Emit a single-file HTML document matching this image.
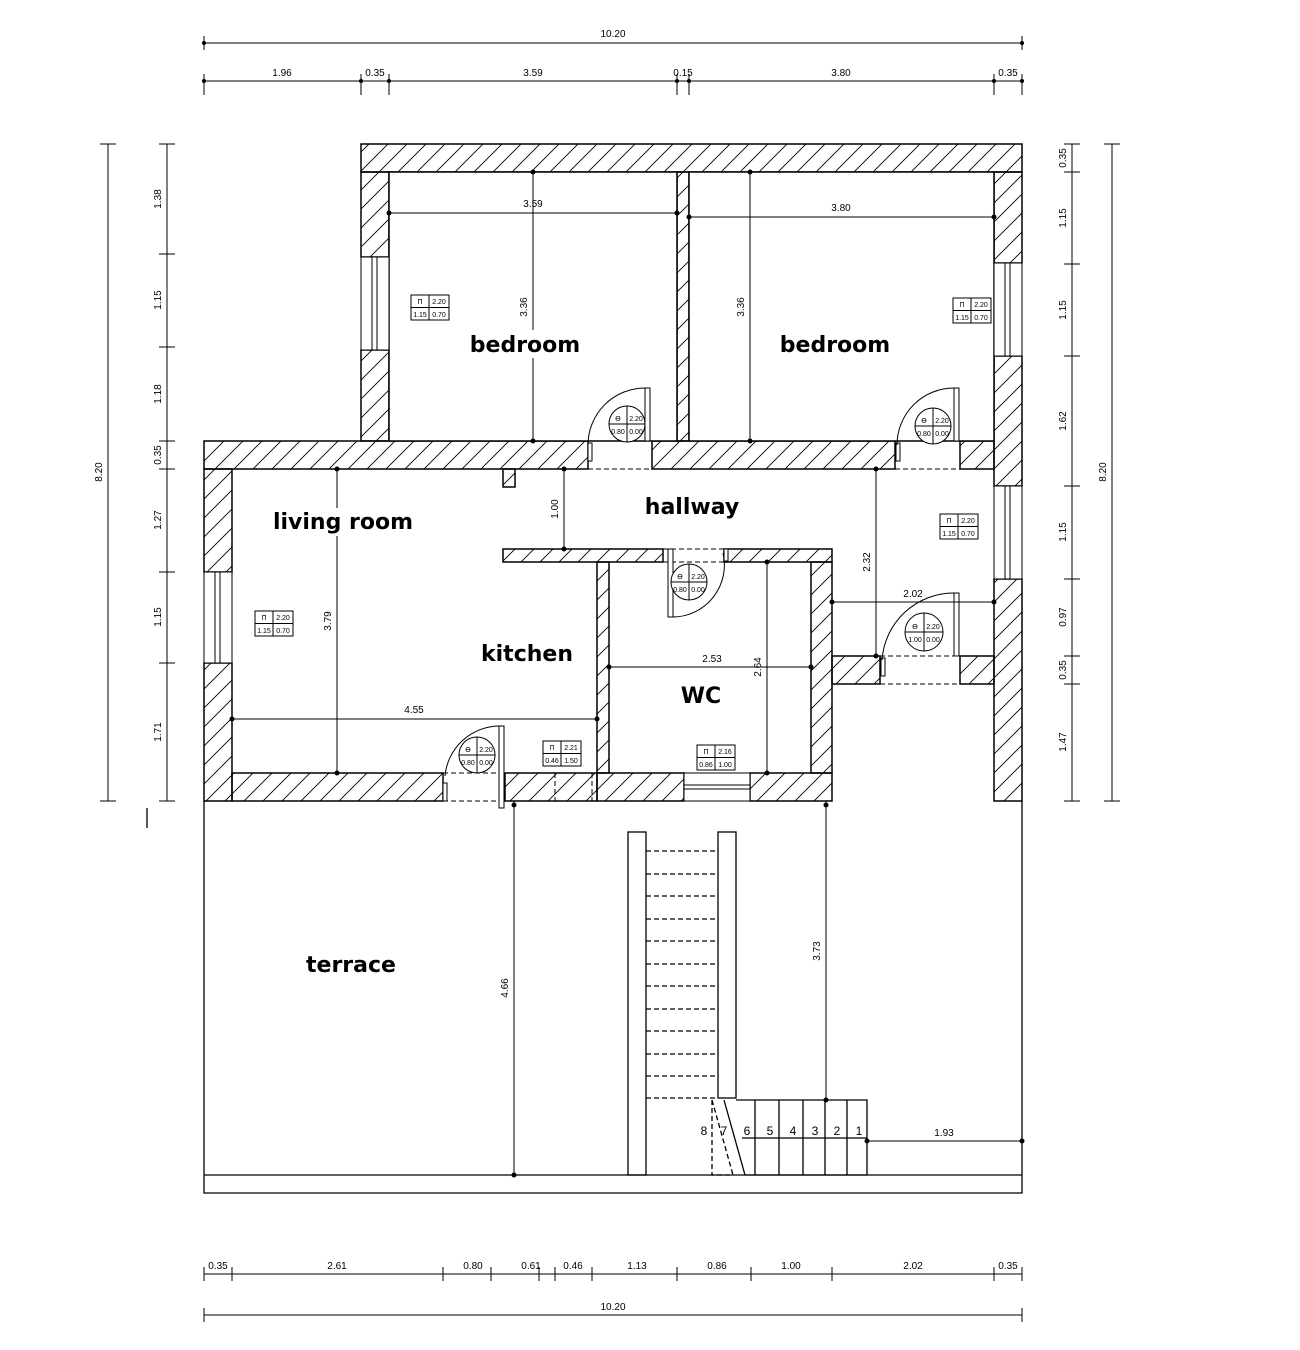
<!DOCTYPE html>
<html><head><meta charset="utf-8"><style>
html,body{margin:0;padding:0;background:#fff}
svg{display:block}
text{font-family:"Liberation Sans",sans-serif;fill:#000;stroke:none}
.d{font-size:10px;text-anchor:middle}
.r{font-size:22px;font-weight:bold;text-anchor:middle;font-family:"DejaVu Sans","Liberation Sans",sans-serif}
.t{font-size:7px;text-anchor:middle}
</style></head><body>
<svg width="1300" height="1350" viewBox="0 0 1300 1350" xmlns="http://www.w3.org/2000/svg">
<defs>
<pattern id="h" patternUnits="userSpaceOnUse" width="19" height="19">
<path d="M-2,21 L21,-2 M-2,2 L2,-2 M17,21 L21,17" stroke="#000" stroke-width="0.9"/>
</pattern>
</defs>
<g stroke="#000" stroke-width="1.5" fill="url(#h)">
<rect x="361" y="144" width="661" height="28"/>
<rect x="361" y="172" width="28" height="85"/>
<rect x="361" y="350" width="28" height="91"/>
<rect x="677" y="172" width="12" height="269"/>
<rect x="994" y="172" width="28" height="91"/>
<rect x="994" y="356" width="28" height="130"/>
<rect x="994" y="579" width="28" height="222"/>
<rect x="204" y="441" width="384" height="28"/>
<rect x="652" y="441" width="243" height="28"/>
<rect x="960" y="441" width="34" height="28"/>
<rect x="204" y="469" width="28" height="103"/>
<rect x="204" y="663" width="28" height="138"/>
<rect x="232" y="773" width="211" height="28"/>
<rect x="505" y="773" width="92" height="28"/>
<rect x="597" y="773" width="87" height="28"/>
<rect x="750" y="773" width="82" height="28"/>
<rect x="503" y="549" width="160" height="13"/>
<rect x="724" y="549" width="108" height="13"/>
<rect x="597" y="562" width="12" height="211"/>
<rect x="811" y="562" width="21" height="211"/>
<rect x="832" y="656" width="48" height="28"/>
<rect x="960" y="656" width="34" height="28"/>
<rect x="503" y="469" width="12" height="18"/>
</g>
<g fill="none" stroke="#000" stroke-width="1.5">
<rect x="389" y="172" width="288" height="269" fill="#fff"/>
<rect x="689" y="172" width="305" height="269" fill="#fff"/>
</g>
<g fill="#fff" stroke="#000" stroke-width="1">
<rect x="361" y="257" width="28" height="93"/>
<rect x="994" y="263" width="28" height="93"/>
<rect x="994" y="486" width="28" height="93"/>
<rect x="204" y="572" width="28" height="91"/>
<rect x="684" y="773" width="66" height="28"/>
<rect x="372" y="257" width="5" height="93"/>
<rect x="1005" y="263" width="5" height="93"/>
<rect x="1005" y="486" width="5" height="93"/>
<rect x="215" y="572" width="5" height="91"/>
<rect x="684" y="785" width="66" height="4"/>
</g>
<g fill="none" stroke="#000" stroke-width="1">
<path d="M588,441 L652,441 M588,469 L652,469 M895,441 L960,441 M895,469 L960,469 M663,549 L724,549 M663,562 L724,562 M880,656 L960,656 M880,684 L960,684 M443,773 L505,773 M443,801 L505,801 M555,773 L555,801 M592,773 L592,801" stroke-dasharray="5,3"/>
<rect x="645" y="388" width="5" height="53" fill="#fff"/><rect x="588" y="443" width="4" height="18" fill="#fff"/>
<path d="M645,388 A57,57 0 0 0 588,445"/>
<rect x="954" y="388" width="5" height="53" fill="#fff"/><rect x="896" y="443" width="4" height="18" fill="#fff"/>
<path d="M954,388 A57,57 0 0 0 897,445"/>
<rect x="668" y="549" width="5" height="68" fill="#fff"/><rect x="724" y="549" width="4" height="12" fill="#fff"/>
<path d="M673,617 A52,52 0 0 0 723,553"/>
<rect x="954" y="593" width="5" height="63" fill="#fff"/><rect x="881" y="658" width="4" height="18" fill="#fff"/>
<path d="M954,593 A72,72 0 0 0 882,660"/>
<rect x="499" y="726" width="5" height="82" fill="#fff"/><rect x="443" y="783" width="4" height="18" fill="#fff"/>
<path d="M499,726 A55,55 0 0 0 445,776"/>
</g>
<g stroke="#000" stroke-width="1" fill="#fff">
<g transform="translate(627,424)"><circle r="18"/><path d="M-18,0H18M0,-18V18"/><text class="t" x="-9" y="-3">ϴ</text><text class="t" x="9" y="-3">2.20</text><text class="t" x="-9" y="10">0.80</text><text class="t" x="9" y="10">0.00</text></g>
<g transform="translate(933,426)"><circle r="18"/><path d="M-18,0H18M0,-18V18"/><text class="t" x="-9" y="-3">ϴ</text><text class="t" x="9" y="-3">2.20</text><text class="t" x="-9" y="10">0.80</text><text class="t" x="9" y="10">0.00</text></g>
<g transform="translate(689,582)"><circle r="18"/><path d="M-18,0H18M0,-18V18"/><text class="t" x="-9" y="-3">ϴ</text><text class="t" x="9" y="-3">2.20</text><text class="t" x="-9" y="10">0.80</text><text class="t" x="9" y="10">0.00</text></g>
<g transform="translate(924,632)"><circle r="19"/><path d="M-19,0H19M0,-19V19"/><text class="t" x="-9" y="-3">ϴ</text><text class="t" x="9" y="-3">2.20</text><text class="t" x="-9" y="10">1.00</text><text class="t" x="9" y="10">0.00</text></g>
<g transform="translate(477,755)"><circle r="18"/><path d="M-18,0H18M0,-18V18"/><text class="t" x="-9" y="-3">ϴ</text><text class="t" x="9" y="-3">2.20</text><text class="t" x="-9" y="10">0.80</text><text class="t" x="9" y="10">0.00</text></g>
</g>
<g stroke="#000" stroke-width="1" fill="#fff">
<g transform="translate(411,295)"><rect width="38" height="25"/><path d="M0,12.5H38M18,0V25"/><text class="t" x="9" y="9">Π</text><text class="t" x="28" y="9">2.20</text><text class="t" x="9" y="22">1.15</text><text class="t" x="28" y="22">0.70</text></g>
<g transform="translate(953,298)"><rect width="38" height="25"/><path d="M0,12.5H38M18,0V25"/><text class="t" x="9" y="9">Π</text><text class="t" x="28" y="9">2.20</text><text class="t" x="9" y="22">1.15</text><text class="t" x="28" y="22">0.70</text></g>
<g transform="translate(940,514)"><rect width="38" height="25"/><path d="M0,12.5H38M18,0V25"/><text class="t" x="9" y="9">Π</text><text class="t" x="28" y="9">2.20</text><text class="t" x="9" y="22">1.15</text><text class="t" x="28" y="22">0.70</text></g>
<g transform="translate(255,611)"><rect width="38" height="25"/><path d="M0,12.5H38M18,0V25"/><text class="t" x="9" y="9">Π</text><text class="t" x="28" y="9">2.20</text><text class="t" x="9" y="22">1.15</text><text class="t" x="28" y="22">0.70</text></g>
<g transform="translate(543,741)"><rect width="38" height="25"/><path d="M0,12.5H38M18,0V25"/><text class="t" x="9" y="9">Π</text><text class="t" x="28" y="9">2.21</text><text class="t" x="9" y="22">0.46</text><text class="t" x="28" y="22">1.50</text></g>
<g transform="translate(697,745)"><rect width="38" height="25"/><path d="M0,12.5H38M18,0V25"/><text class="t" x="9" y="9">Π</text><text class="t" x="28" y="9">2.16</text><text class="t" x="9" y="22">0.86</text><text class="t" x="28" y="22">1.00</text></g>
</g>
<g fill="none" stroke="#000" stroke-width="1.3">
<path d="M204,801V1193H1022V801M204,1175H1022"/>
<rect x="628" y="832" width="18" height="343"/>
<rect x="718" y="832" width="18" height="266"/>
<path d="M736,1100H867V1175H745L724,1100M755,1100V1175M779,1100V1175M803,1100V1175M825,1100V1175M847,1100V1175M742,1138H867"/>
<path d="M646,851H718M646,874H718M646,896H718M646,919H718M646,941H718M646,964H718M646,986H718M646,1009H718M646,1031H718M646,1054H718M646,1076H718M646,1098H718M712,1100L733,1175M712,1100V1175H733" stroke-dasharray="5,3"/>
<path d="M147,808V828"/>
</g>
<g fill="none" stroke="#000" stroke-width="1">
<path d="M204,43H1022M204,81H1022M204,1274H1022M204,1315H1022M108,144V801M167,144V801M1072,144V801M1112,144V801"/>
<path d="M533,172V441M750,172V441M389,213H677M689,217H994M337,469V773M232,719H597M564,469V549M876,469V656M832,602H994M609,667H811M767,562V773M514,801V1175M826,801V1100M867,1141H1022"/>
<path d="M204,36V50M1022,36V50M204,74V95M361,74V95M389,74V95M677,74V95M689,74V95M994,74V95M1022,74V95
M204,1267V1281M232,1267V1281M443,1267V1281M491,1267V1281M539,1267V1281M555,1267V1281M592,1267V1281M677,1267V1281M751,1267V1281M832,1267V1281M994,1267V1281M1022,1267V1281M204,1308V1322M1022,1308V1322
M100,144H116M100,801H116M159,144H175M159,254H175M159,347H175M159,441H175M159,469H175M159,572H175M159,663H175M159,801H175
M1064,144H1080M1064,172H1080M1064,264H1080M1064,356H1080M1064,486H1080M1064,579H1080M1064,656H1080M1064,684H1080M1064,801H1080M1104,144H1120M1104,801H1120"/>
</g>
<g fill="#000">
<circle cx="204" cy="43" r="2"/><circle cx="1022" cy="43" r="2"/>
<circle cx="204" cy="81" r="2"/><circle cx="361" cy="81" r="2"/><circle cx="389" cy="81" r="2"/><circle cx="677" cy="81" r="2"/><circle cx="689" cy="81" r="2"/><circle cx="994" cy="81" r="2"/><circle cx="1022" cy="81" r="2"/>
<circle cx="533" cy="172" r="2.5"/><circle cx="533" cy="441" r="2.5"/><circle cx="750" cy="172" r="2.5"/><circle cx="750" cy="441" r="2.5"/>
<circle cx="389" cy="213" r="2.5"/><circle cx="677" cy="213" r="2.5"/><circle cx="689" cy="217" r="2.5"/><circle cx="994" cy="217" r="2.5"/>
<circle cx="337" cy="469" r="2.5"/><circle cx="337" cy="773" r="2.5"/><circle cx="232" cy="719" r="2.5"/><circle cx="597" cy="719" r="2.5"/>
<circle cx="564" cy="469" r="2.5"/><circle cx="564" cy="549" r="2.5"/><circle cx="876" cy="469" r="2.5"/><circle cx="876" cy="656" r="2.5"/>
<circle cx="832" cy="602" r="2.5"/><circle cx="994" cy="602" r="2.5"/><circle cx="609" cy="667" r="2.5"/><circle cx="811" cy="667" r="2.5"/>
<circle cx="767" cy="562" r="2.5"/><circle cx="767" cy="773" r="2.5"/><circle cx="514" cy="805" r="2.5"/><circle cx="514" cy="1175" r="2.5"/>
<circle cx="826" cy="805" r="2.5"/><circle cx="826" cy="1100" r="2.5"/><circle cx="867" cy="1141" r="2.5"/><circle cx="1022" cy="1141" r="2.5"/>
</g>
<g>
<text class="d" x="613" y="37">10.20</text>
<text class="d" x="282" y="76">1.96</text><text class="d" x="375" y="76">0.35</text><text class="d" x="533" y="76">3.59</text><text class="d" x="683" y="76">0.15</text><text class="d" x="841" y="76">3.80</text><text class="d" x="1008" y="76">0.35</text>
<text class="d" x="218" y="1269">0.35</text><text class="d" x="337" y="1269">2.61</text><text class="d" x="473" y="1269">0.80</text><text class="d" x="531" y="1269">0.61</text><text class="d" x="573" y="1269">0.46</text><text class="d" x="637" y="1269">1.13</text><text class="d" x="717" y="1269">0.86</text><text class="d" x="791" y="1269">1.00</text><text class="d" x="913" y="1269">2.02</text><text class="d" x="1008" y="1269">0.35</text>
<text class="d" x="613" y="1310">10.20</text>
<text class="d" x="533" y="207">3.59</text><text class="d" x="841" y="211">3.80</text><text class="d" x="414" y="713">4.55</text><text class="d" x="913" y="597">2.02</text><text class="d" x="712" y="662">2.53</text><text class="d" x="944" y="1136">1.93</text>
<text class="d" transform="translate(102,472) rotate(-90)">8.20</text>
<text class="d" transform="translate(1106,472) rotate(-90)">8.20</text>
<text class="d" transform="translate(161,199) rotate(-90)">1.38</text><text class="d" transform="translate(161,300) rotate(-90)">1.15</text><text class="d" transform="translate(161,394) rotate(-90)">1.18</text><text class="d" transform="translate(161,455) rotate(-90)">0.35</text><text class="d" transform="translate(161,520) rotate(-90)">1.27</text><text class="d" transform="translate(161,617) rotate(-90)">1.15</text><text class="d" transform="translate(161,732) rotate(-90)">1.71</text>
<text class="d" transform="translate(1066,158) rotate(-90)">0.35</text><text class="d" transform="translate(1066,218) rotate(-90)">1.15</text><text class="d" transform="translate(1066,310) rotate(-90)">1.15</text><text class="d" transform="translate(1066,421) rotate(-90)">1.62</text><text class="d" transform="translate(1066,532) rotate(-90)">1.15</text><text class="d" transform="translate(1066,617) rotate(-90)">0.97</text><text class="d" transform="translate(1066,670) rotate(-90)">0.35</text><text class="d" transform="translate(1066,742) rotate(-90)">1.47</text>
<text class="d" transform="translate(527,307) rotate(-90)">3.36</text><text class="d" transform="translate(744,307) rotate(-90)">3.36</text><text class="d" transform="translate(331,621) rotate(-90)">3.79</text><text class="d" transform="translate(558,509) rotate(-90)">1.00</text><text class="d" transform="translate(870,562) rotate(-90)">2.32</text><text class="d" transform="translate(761,667) rotate(-90)">2.64</text><text class="d" transform="translate(508,988) rotate(-90)">4.66</text><text class="d" transform="translate(820,951) rotate(-90)">3.73</text>
</g>
<g>
<text x="704" y="1135" text-anchor="middle" style="font-size:12px">8</text><text x="724" y="1135" text-anchor="middle" style="font-size:12px">7</text><text x="747" y="1135" text-anchor="middle" style="font-size:12px">6</text><text x="770" y="1135" text-anchor="middle" style="font-size:12px">5</text><text x="793" y="1135" text-anchor="middle" style="font-size:12px">4</text><text x="815" y="1135" text-anchor="middle" style="font-size:12px">3</text><text x="837" y="1135" text-anchor="middle" style="font-size:12px">2</text><text x="859" y="1135" text-anchor="middle" style="font-size:12px">1</text>
</g>
<g fill="#fff"><rect x="472" y="330" width="108" height="28"/><rect x="302" y="508" width="60" height="28"/></g>
<text class="r" x="525" y="352">bedroom</text>
<text class="r" x="835" y="352">bedroom</text>
<text class="r" x="343" y="529">living room</text>
<text class="r" x="692" y="514">hallway</text>
<text class="r" x="527" y="661">kitchen</text>
<text class="r" x="701" y="703">WC</text>
<text class="r" x="351" y="972">terrace</text>
</svg>
</body></html>
